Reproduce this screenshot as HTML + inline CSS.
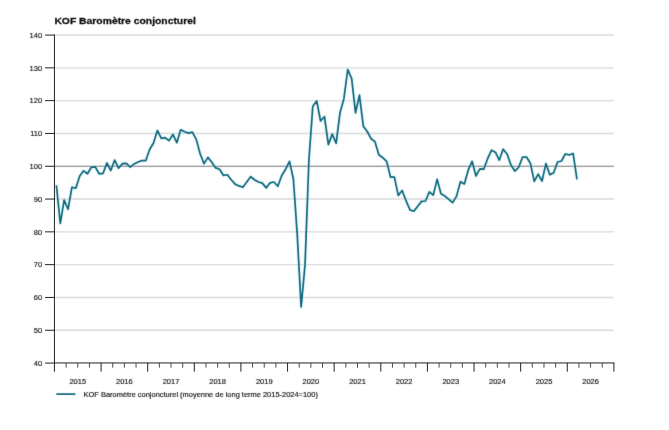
<!DOCTYPE html>
<html><head><meta charset="utf-8"><title>KOF Baromètre conjoncturel</title>
<style>
html,body{margin:0;padding:0;background:#fff;}
body{width:669px;height:430px;overflow:hidden;font-family:"Liberation Sans",sans-serif;}
svg{display:block;}
.t{font-family:"Liberation Sans",sans-serif;font-size:7.5px;fill:#1a1a1a;stroke:#1a1a1a;stroke-width:0.18px;}
.h{font-family:"Liberation Sans",sans-serif;font-size:9.85px;font-weight:bold;fill:#0a0a0a;stroke:#0a0a0a;stroke-width:0.25px;}
</style></head><body>
<svg width="669" height="430" viewBox="0 0 669 430">
<defs><filter id="sf" x="0" y="0" width="100%" height="100%" color-interpolation-filters="sRGB"><feConvolveMatrix order="3" kernelMatrix="0.00741 0.07126 0.00741 0.07126 0.68530 0.07126 0.00741 0.07126 0.00741" edgeMode="duplicate" preserveAlpha="true"/></filter></defs>
<rect width="669" height="430" fill="#fff"/>
<g filter="url(#sf)">
<rect width="669" height="430" fill="#fff"/>
<line x1="54.45" x2="613.9" y1="330.25" y2="330.25" stroke="#d9d9d9" stroke-width="1.4"/>
<line x1="54.45" x2="613.9" y1="297.45" y2="297.45" stroke="#d9d9d9" stroke-width="1.4"/>
<line x1="54.45" x2="613.9" y1="264.65" y2="264.65" stroke="#d9d9d9" stroke-width="1.4"/>
<line x1="54.45" x2="613.9" y1="231.85" y2="231.85" stroke="#d9d9d9" stroke-width="1.4"/>
<line x1="54.45" x2="613.9" y1="199.05" y2="199.05" stroke="#d9d9d9" stroke-width="1.4"/>
<line x1="54.45" x2="613.9" y1="133.45" y2="133.45" stroke="#d9d9d9" stroke-width="1.4"/>
<line x1="54.45" x2="613.9" y1="100.65" y2="100.65" stroke="#d9d9d9" stroke-width="1.4"/>
<line x1="54.45" x2="613.9" y1="67.85" y2="67.85" stroke="#d9d9d9" stroke-width="1.4"/>
<line x1="54.45" x2="613.9" y1="35.05" y2="35.05" stroke="#d9d9d9" stroke-width="1.4"/>
<line x1="54.45" x2="613.9" y1="166.25" y2="166.25" stroke="#767676" stroke-width="1.2"/>
<polyline points="56.39,185.27 60.28,223.32 64.16,200.03 68.05,209.22 71.93,187.24 75.82,188.23 79.70,176.09 83.59,170.84 87.47,173.79 91.36,167.23 95.24,166.91 99.13,173.79 103.01,173.47 106.90,162.97 110.78,170.51 114.67,160.02 118.55,168.22 122.44,163.63 126.32,163.30 130.21,167.07 134.09,163.95 137.98,161.99 141.86,160.67 145.75,160.67 149.63,149.52 153.52,142.96 157.40,130.50 161.29,138.37 165.17,137.71 169.06,140.67 172.94,134.43 176.83,142.63 180.71,129.84 184.60,131.81 188.48,133.12 192.37,132.14 196.26,139.35 200.14,153.79 204.03,163.63 207.91,157.39 211.80,162.31 215.68,167.89 219.57,169.20 223.45,175.43 227.34,174.78 231.22,179.70 235.11,184.13 238.99,185.93 242.88,187.24 246.76,181.99 250.65,176.75 254.53,179.70 258.42,181.99 262.30,183.14 266.19,187.90 270.07,182.81 273.96,181.99 277.84,186.26 281.73,175.43 285.61,169.20 289.50,161.33 293.38,179.04 297.27,235.13 301.15,306.96 305.04,264.65 308.92,159.69 312.81,106.23 316.69,100.98 320.58,120.99 324.46,116.72 328.35,144.60 332.23,134.11 336.12,143.29 340.00,112.79 343.89,98.68 347.77,69.49 351.66,78.67 355.54,112.79 359.43,95.07 363.31,126.23 367.20,131.48 371.08,138.70 374.97,141.65 378.85,154.77 382.74,157.72 386.62,161.33 390.51,177.07 394.39,177.07 398.28,195.44 402.16,190.52 406.05,200.69 409.93,209.87 413.82,211.19 417.70,206.27 421.59,201.35 425.47,201.02 429.36,191.83 433.24,195.11 437.13,179.37 441.01,193.80 444.90,196.10 448.78,199.38 452.67,202.66 456.55,196.10 460.44,181.67 464.32,183.96 468.21,170.19 472.09,161.33 475.98,175.93 479.87,168.87 483.75,169.20 487.64,158.71 491.52,150.18 495.41,152.15 499.29,160.02 503.18,149.19 507.06,153.95 510.95,164.94 514.83,171.17 518.72,167.23 522.60,157.07 526.49,157.07 530.37,163.30 534.26,181.34 538.14,174.12 542.03,181.01 545.91,163.63 549.80,174.78 553.68,172.81 557.57,161.99 561.45,161.00 565.34,153.95 569.22,154.93 573.11,153.46 576.99,179.37" fill="none" stroke="#a8ecf6" stroke-opacity="0.3" stroke-width="3.4" stroke-linejoin="round" stroke-linecap="butt"/>
<polyline points="56.39,185.27 60.28,223.32 64.16,200.03 68.05,209.22 71.93,187.24 75.82,188.23 79.70,176.09 83.59,170.84 87.47,173.79 91.36,167.23 95.24,166.91 99.13,173.79 103.01,173.47 106.90,162.97 110.78,170.51 114.67,160.02 118.55,168.22 122.44,163.63 126.32,163.30 130.21,167.07 134.09,163.95 137.98,161.99 141.86,160.67 145.75,160.67 149.63,149.52 153.52,142.96 157.40,130.50 161.29,138.37 165.17,137.71 169.06,140.67 172.94,134.43 176.83,142.63 180.71,129.84 184.60,131.81 188.48,133.12 192.37,132.14 196.26,139.35 200.14,153.79 204.03,163.63 207.91,157.39 211.80,162.31 215.68,167.89 219.57,169.20 223.45,175.43 227.34,174.78 231.22,179.70 235.11,184.13 238.99,185.93 242.88,187.24 246.76,181.99 250.65,176.75 254.53,179.70 258.42,181.99 262.30,183.14 266.19,187.90 270.07,182.81 273.96,181.99 277.84,186.26 281.73,175.43 285.61,169.20 289.50,161.33 293.38,179.04 297.27,235.13 301.15,306.96 305.04,264.65 308.92,159.69 312.81,106.23 316.69,100.98 320.58,120.99 324.46,116.72 328.35,144.60 332.23,134.11 336.12,143.29 340.00,112.79 343.89,98.68 347.77,69.49 351.66,78.67 355.54,112.79 359.43,95.07 363.31,126.23 367.20,131.48 371.08,138.70 374.97,141.65 378.85,154.77 382.74,157.72 386.62,161.33 390.51,177.07 394.39,177.07 398.28,195.44 402.16,190.52 406.05,200.69 409.93,209.87 413.82,211.19 417.70,206.27 421.59,201.35 425.47,201.02 429.36,191.83 433.24,195.11 437.13,179.37 441.01,193.80 444.90,196.10 448.78,199.38 452.67,202.66 456.55,196.10 460.44,181.67 464.32,183.96 468.21,170.19 472.09,161.33 475.98,175.93 479.87,168.87 483.75,169.20 487.64,158.71 491.52,150.18 495.41,152.15 499.29,160.02 503.18,149.19 507.06,153.95 510.95,164.94 514.83,171.17 518.72,167.23 522.60,157.07 526.49,157.07 530.37,163.30 534.26,181.34 538.14,174.12 542.03,181.01 545.91,163.63 549.80,174.78 553.68,172.81 557.57,161.99 561.45,161.00 565.34,153.95 569.22,154.93 573.11,153.46 576.99,179.37" fill="none" stroke="#10667c" stroke-width="1.7" stroke-linejoin="round" stroke-linecap="butt"/>
<text x="42.1" y="365.80" text-anchor="end" class="t">40</text>
<text x="42.1" y="333.00" text-anchor="end" class="t">50</text>
<text x="42.1" y="300.20" text-anchor="end" class="t">60</text>
<text x="42.1" y="267.40" text-anchor="end" class="t">70</text>
<text x="42.1" y="234.60" text-anchor="end" class="t">80</text>
<text x="42.1" y="201.80" text-anchor="end" class="t">90</text>
<text x="42.1" y="169.00" text-anchor="end" class="t">100</text>
<text x="42.1" y="136.20" text-anchor="end" class="t">110</text>
<text x="42.1" y="103.40" text-anchor="end" class="t">120</text>
<text x="42.1" y="70.60" text-anchor="end" class="t">130</text>
<text x="42.1" y="37.80" text-anchor="end" class="t">140</text>
<text x="77.76" y="383.7" text-anchor="middle" class="t">2015</text>
<text x="124.38" y="383.7" text-anchor="middle" class="t">2016</text>
<text x="171.00" y="383.7" text-anchor="middle" class="t">2017</text>
<text x="217.62" y="383.7" text-anchor="middle" class="t">2018</text>
<text x="264.24" y="383.7" text-anchor="middle" class="t">2019</text>
<text x="310.86" y="383.7" text-anchor="middle" class="t">2020</text>
<text x="357.49" y="383.7" text-anchor="middle" class="t">2021</text>
<text x="404.11" y="383.7" text-anchor="middle" class="t">2022</text>
<text x="450.73" y="383.7" text-anchor="middle" class="t">2023</text>
<text x="497.35" y="383.7" text-anchor="middle" class="t">2024</text>
<text x="543.97" y="383.7" text-anchor="middle" class="t">2025</text>
<text x="590.59" y="383.7" text-anchor="middle" class="t">2026</text>
<line x1="56.3" x2="75.4" y1="394.1" y2="394.1" stroke="#10667c" stroke-width="1.7"/>
<text x="83.6" y="396.8" class="t" style="font-size:7.46px">KOF Baromètre conjoncturel (moyenne de long terme 2015-2024=100)</text>
<text transform="translate(54.4,23.9) scale(1.052,1)" x="0" y="0" class="h">KOF Baromètre conjoncturel</text>
</g>
<g stroke="#222" stroke-width="1" fill="none">
<line x1="54.45" x2="54.45" y1="34.55" y2="362.95"/>
<line x1="53.95" x2="614.4" y1="362.95" y2="362.95"/>
<line x1="45.05" x2="54.45" y1="363.05" y2="363.05"/>
<line x1="45.05" x2="54.45" y1="330.25" y2="330.25"/>
<line x1="45.05" x2="54.45" y1="297.45" y2="297.45"/>
<line x1="45.05" x2="54.45" y1="264.65" y2="264.65"/>
<line x1="45.05" x2="54.45" y1="231.85" y2="231.85"/>
<line x1="45.05" x2="54.45" y1="199.05" y2="199.05"/>
<line x1="45.05" x2="54.45" y1="166.25" y2="166.25"/>
<line x1="45.05" x2="54.45" y1="133.45" y2="133.45"/>
<line x1="45.05" x2="54.45" y1="100.65" y2="100.65"/>
<line x1="45.05" x2="54.45" y1="67.85" y2="67.85"/>
<line x1="45.05" x2="54.45" y1="35.05" y2="35.05"/>
<line x1="54.45" x2="54.45" y1="362.95" y2="371.65"/>
<line x1="66.11" x2="66.11" y1="362.95" y2="367.70" stroke="#4a4a4a"/>
<line x1="77.76" x2="77.76" y1="362.95" y2="367.70" stroke="#4a4a4a"/>
<line x1="89.42" x2="89.42" y1="362.95" y2="367.70" stroke="#4a4a4a"/>
<line x1="101.07" x2="101.07" y1="362.95" y2="371.65"/>
<line x1="112.73" x2="112.73" y1="362.95" y2="367.70" stroke="#4a4a4a"/>
<line x1="124.38" x2="124.38" y1="362.95" y2="367.70" stroke="#4a4a4a"/>
<line x1="136.04" x2="136.04" y1="362.95" y2="367.70" stroke="#4a4a4a"/>
<line x1="147.69" x2="147.69" y1="362.95" y2="371.65"/>
<line x1="159.35" x2="159.35" y1="362.95" y2="367.70" stroke="#4a4a4a"/>
<line x1="171.00" x2="171.00" y1="362.95" y2="367.70" stroke="#4a4a4a"/>
<line x1="182.66" x2="182.66" y1="362.95" y2="367.70" stroke="#4a4a4a"/>
<line x1="194.31" x2="194.31" y1="362.95" y2="371.65"/>
<line x1="205.97" x2="205.97" y1="362.95" y2="367.70" stroke="#4a4a4a"/>
<line x1="217.62" x2="217.62" y1="362.95" y2="367.70" stroke="#4a4a4a"/>
<line x1="229.28" x2="229.28" y1="362.95" y2="367.70" stroke="#4a4a4a"/>
<line x1="240.93" x2="240.93" y1="362.95" y2="371.65"/>
<line x1="252.59" x2="252.59" y1="362.95" y2="367.70" stroke="#4a4a4a"/>
<line x1="264.24" x2="264.24" y1="362.95" y2="367.70" stroke="#4a4a4a"/>
<line x1="275.90" x2="275.90" y1="362.95" y2="367.70" stroke="#4a4a4a"/>
<line x1="287.55" x2="287.55" y1="362.95" y2="371.65"/>
<line x1="299.21" x2="299.21" y1="362.95" y2="367.70" stroke="#4a4a4a"/>
<line x1="310.86" x2="310.86" y1="362.95" y2="367.70" stroke="#4a4a4a"/>
<line x1="322.52" x2="322.52" y1="362.95" y2="367.70" stroke="#4a4a4a"/>
<line x1="334.17" x2="334.17" y1="362.95" y2="371.65"/>
<line x1="345.83" x2="345.83" y1="362.95" y2="367.70" stroke="#4a4a4a"/>
<line x1="357.49" x2="357.49" y1="362.95" y2="367.70" stroke="#4a4a4a"/>
<line x1="369.14" x2="369.14" y1="362.95" y2="367.70" stroke="#4a4a4a"/>
<line x1="380.80" x2="380.80" y1="362.95" y2="371.65"/>
<line x1="392.45" x2="392.45" y1="362.95" y2="367.70" stroke="#4a4a4a"/>
<line x1="404.11" x2="404.11" y1="362.95" y2="367.70" stroke="#4a4a4a"/>
<line x1="415.76" x2="415.76" y1="362.95" y2="367.70" stroke="#4a4a4a"/>
<line x1="427.42" x2="427.42" y1="362.95" y2="371.65"/>
<line x1="439.07" x2="439.07" y1="362.95" y2="367.70" stroke="#4a4a4a"/>
<line x1="450.73" x2="450.73" y1="362.95" y2="367.70" stroke="#4a4a4a"/>
<line x1="462.38" x2="462.38" y1="362.95" y2="367.70" stroke="#4a4a4a"/>
<line x1="474.04" x2="474.04" y1="362.95" y2="371.65"/>
<line x1="485.69" x2="485.69" y1="362.95" y2="367.70" stroke="#4a4a4a"/>
<line x1="497.35" x2="497.35" y1="362.95" y2="367.70" stroke="#4a4a4a"/>
<line x1="509.00" x2="509.00" y1="362.95" y2="367.70" stroke="#4a4a4a"/>
<line x1="520.66" x2="520.66" y1="362.95" y2="371.65"/>
<line x1="532.31" x2="532.31" y1="362.95" y2="367.70" stroke="#4a4a4a"/>
<line x1="543.97" x2="543.97" y1="362.95" y2="367.70" stroke="#4a4a4a"/>
<line x1="555.62" x2="555.62" y1="362.95" y2="367.70" stroke="#4a4a4a"/>
<line x1="567.28" x2="567.28" y1="362.95" y2="371.65"/>
<line x1="578.93" x2="578.93" y1="362.95" y2="367.70" stroke="#4a4a4a"/>
<line x1="590.59" x2="590.59" y1="362.95" y2="367.70" stroke="#4a4a4a"/>
<line x1="602.24" x2="602.24" y1="362.95" y2="367.70" stroke="#4a4a4a"/>
<line x1="613.90" x2="613.90" y1="362.95" y2="371.65"/>
</g>
</svg>
</body></html>
